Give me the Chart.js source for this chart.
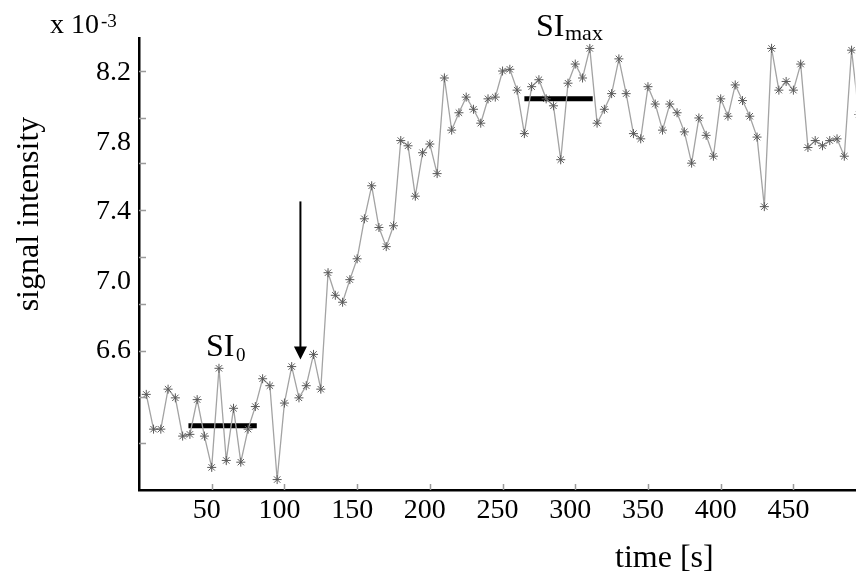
<!DOCTYPE html>
<html>
<head>
<meta charset="utf-8">
<script src="https://cdn.jsdelivr.net/npm/chart.js@4/dist/chart.umd.min.js"></script>
<style>
  html, body { margin:0; padding:0; background:#fff; overflow:hidden; }
  #wrap { width:861px; height:576px; position:relative; }
</style>
</head>
<body>
<div id="wrap"><canvas id="siChart" width="861" height="576"></canvas></div>
<script>
// ---- data (time in s, signal in units of 10^-3) ----
const times = [5,10,15,20,25,30,35,40,45,50,55,60,65,70,75,80,85,90,95,100,
  105,110,115,120,125,130,135,140,145,150,155,160,165,170,175,180,185,190,195,200,
  205,210,215,220,225,230,235,240,245,250,255,260,265,270,275,280,285,290,295,300,
  305,310,315,320,325,330,335,340,345,350,355,360,365,370,375,380,385,390,395,400,
  405,410,415,420,425,430,435,440,445,450,455,460,465,470,475,480,485,490,495];
const signal = [6.35,6.15,6.15,6.38,6.33,6.11,6.12,6.32,6.11,5.93,6.50,5.97,6.27,5.96,6.15,6.28,6.44,6.40,5.86,6.30,
  6.51,6.33,6.40,6.58,6.38,7.05,6.92,6.88,7.01,7.13,7.36,7.55,7.31,7.20,7.32,7.81,7.78,7.49,7.74,7.79,
  7.62,8.17,7.87,7.97,8.06,7.99,7.91,8.05,8.06,8.21,8.22,8.10,7.85,8.12,8.16,8.05,8.01,7.70,8.14,8.25,
  8.17,8.34,7.91,7.99,8.08,8.28,8.08,7.85,7.82,8.12,8.02,7.87,8.02,7.97,7.86,7.68,7.94,7.84,7.72,8.05,
  7.95,8.13,8.04,7.95,7.83,7.43,8.34,8.10,8.15,8.10,8.25,7.77,7.81,7.78,7.81,7.82,7.72,8.33,7.96];

const xTickLabels = [50,100,150,200,250,300,350,400,450];
const yTickLabels = [6.6,7.0,7.4,7.8,8.2];
const yTickMarks  = [6.07,6.335,6.6,6.87,7.14,7.41,7.68,7.94,8.21];

// baseline / plateau bars and the injection arrow
const si0Bar   = { x:[34,81],   y:6.17 };
const siMaxBar = { x:[265,312], y:8.05 };
const arrow    = { x:111, from:7.46, to:6.55 };

const SERIF = '"Liberation Serif", "Times New Roman", serif';

const decor = {
  id:'decor',
  afterDatasetsDraw(chart) {
    const { ctx, scales:{x, y}, chartArea:a } = chart;
    ctx.save();
    // inner tick marks
    ctx.strokeStyle = '#9a9a9a'; ctx.lineWidth = 1.5;
    yTickMarks.forEach(v => { const py = Math.round(y.getPixelForValue(v))+0.5;
      ctx.beginPath(); ctx.moveTo(a.left, py); ctx.lineTo(a.left+7, py); ctx.stroke(); });
    xTickLabels.forEach(v => { const px = Math.round(x.getPixelForValue(v))+0.5;
      ctx.beginPath(); ctx.moveTo(px, a.bottom); ctx.lineTo(px, a.bottom-6); ctx.stroke(); });

    // arrow
    const ax = x.getPixelForValue(arrow.x), y0 = y.getPixelForValue(arrow.from), y1 = y.getPixelForValue(arrow.to);
    ctx.strokeStyle = '#000'; ctx.fillStyle = '#000'; ctx.lineWidth = 2;
    ctx.beginPath(); ctx.moveTo(ax, y0); ctx.lineTo(ax, y1-12); ctx.stroke();
    ctx.beginPath(); ctx.moveTo(ax-6.5, y1-13); ctx.lineTo(ax+6.5, y1-13); ctx.lineTo(ax, y1); ctx.closePath(); ctx.fill();

    // texts
    ctx.fillStyle = '#000'; ctx.textBaseline = 'alphabetic'; ctx.textAlign = 'left';
    ctx.font = '28px '+SERIF; ctx.fillText('x 10', 50, 33);
    ctx.font = '19px '+SERIF; ctx.fillText('-3', 101, 27);

    ctx.font = '32px '+SERIF; ctx.fillText('SI', 206, 356);
    ctx.font = '19px '+SERIF; ctx.fillText('0', 236, 361);

    ctx.font = '32px '+SERIF; ctx.fillText('SI', 536, 36);
    ctx.font = '22px '+SERIF; ctx.fillText('max', 565, 40);

    ctx.font = '32px '+SERIF; ctx.fillText('time [s]', 615, 567);

    ctx.translate(30, 214); ctx.rotate(-Math.PI/2);
    ctx.textAlign = 'center'; ctx.textBaseline = 'middle';
    ctx.fillText('signal intensity', 0, 0);
    ctx.restore();
  }
};

new Chart(document.getElementById('siChart').getContext('2d'), {
  type:'line',
  data:{ datasets:[
    { data:times.map((t,i)=>({x:t, y:signal[i]})), borderColor:'#a3a3a3', borderWidth:1.3,
      pointStyle:'star', pointRadius:4.5, pointBorderColor:'#5a5a5a', pointBorderWidth:1, pointBackgroundColor:'#5a5a5a', tension:0 },
    { data:si0Bar.x.map(v=>({x:v, y:si0Bar.y})), borderColor:'#000', borderWidth:5, pointRadius:0 },
    { data:siMaxBar.x.map(v=>({x:v, y:siMaxBar.y})), borderColor:'#000', borderWidth:5, pointRadius:0 },
  ]},
  options:{
    responsive:false, animation:false, devicePixelRatio:1,
    layout:{ padding:{ top:38, right:0, left:0, bottom:0 } },
    plugins:{ legend:{display:false}, tooltip:{enabled:false} },
    scales:{
      x:{ type:'linear', min:0, max:492.7,
        afterBuildTicks:s => { s.ticks = xTickLabels.map(v=>({value:v})); },
        afterFit:s => { s.height = 86; },
        ticks:{ color:'#000', font:{ family:SERIF, size:28 }, padding:4, labelOffset:-5, maxRotation:0 },
        grid:{ display:true, drawOnChartArea:false, drawTicks:false },
        border:{ display:true, color:'#000', width:2.5 } },
      y:{ min:5.8, max:8.4,
        afterBuildTicks:s => { s.ticks = yTickLabels.map(v=>({value:v})); },
        afterFit:s => { s.width = 139; },
        ticks:{ color:'#000', font:{ family:SERIF, size:28 }, padding:8, callback:v=>v.toFixed(1) },
        grid:{ display:true, drawOnChartArea:false, drawTicks:false },
        border:{ display:true, color:'#000', width:2.5 } },
    },
  },
  plugins:[decor],
});
</script>
</body>
</html>
